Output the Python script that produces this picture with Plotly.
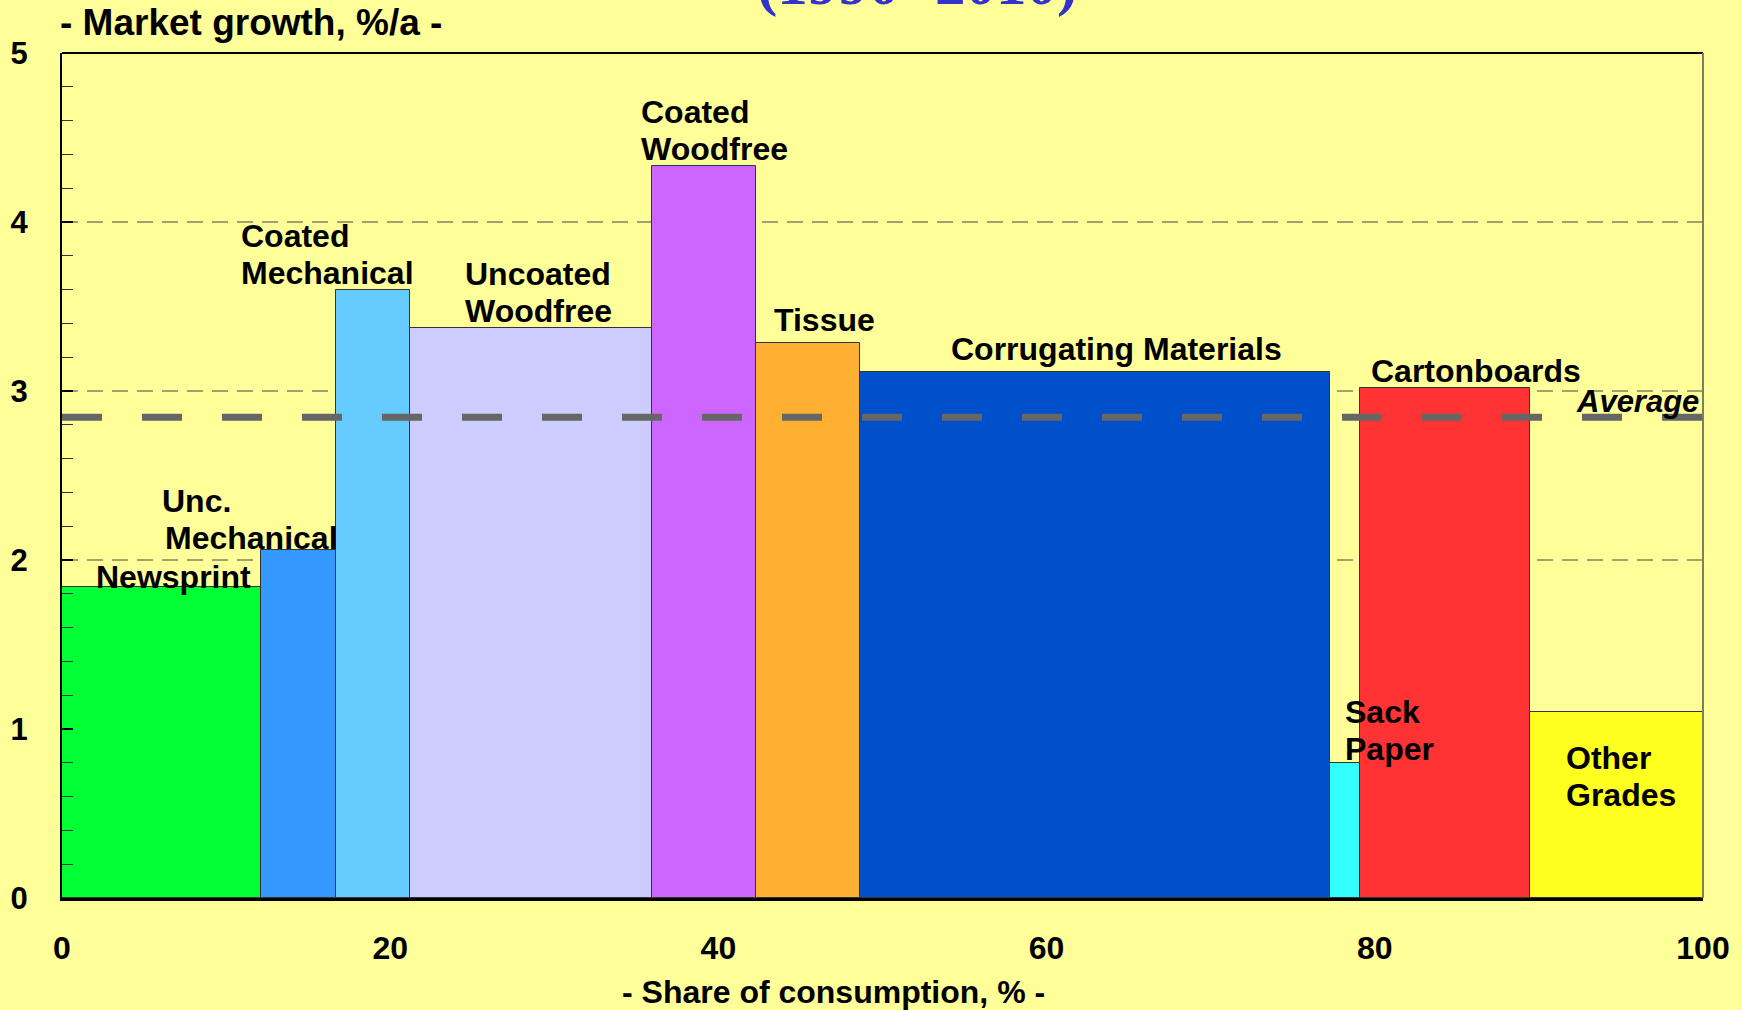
import plotly.graph_objects as go

# market share (% of consumption) and growth (%/a) per paper grade, 1990-2010
grades = ['Newsprint', 'Unc. Mechanical', 'Coated Mechanical', 'Uncoated Woodfree',
          'Coated Woodfree', 'Tissue', 'Corrugating Materials', 'Sack Paper',
          'Cartonboards', 'Other Grades']
share = [12.15, 4.53, 4.52, 14.77, 6.34, 6.29, 28.70, 1.77, 10.41, 10.52]
growth = [1.84, 2.06, 3.595, 3.375, 4.33, 3.285, 3.115, 0.80, 3.015, 1.10]
average = 2.845
colors = ['#00FF33', '#3399FF', '#66CCFF', '#CCCCFF', '#CC66FF',
          '#FFB033', '#0050CC', '#33FFFF', '#FF3333', '#FFFF1F']

# label lines and where each label block sits (x, y, anchor)
label_lines = [['Newsprint'], ['Unc.', ' Mechanical'], ['Coated', 'Mechanical'],
               ['Uncoated', 'Woodfree'], ['Coated', 'Woodfree'], ['Tissue'],
               ['Corrugating Materials'], ['Sack', 'Paper'], ['Cartonboards'],
               ['Other', 'Grades']]
label_x = [2.2, 6.2, 11.0, 24.7, 35.4, 43.5, 64.25, 78.3, 86.15, 91.8]
label_y = [1.90, 2.24, 3.81, 3.58, 4.54, 3.42, 3.25, 0.99, 3.12, 0.72]
label_anchor = ['left', 'left', 'left', 'left', 'left', 'left', 'center', 'left', 'center', 'left']

x_ticks = [0, 20, 40, 60, 80, 100]
y_ticks = [0, 1, 2, 3, 4, 5]
grid_at = [2, 3, 4]

FONT = 'Arial, Liberation Sans, sans-serif'
BG = '#FFFF99'
LINE_GAP = 37

left = []
pos = 0
for s in share:
    left.append(pos)
    pos += s
mid = [l + s / 2 for l, s in zip(left, share)]

fig = go.Figure()
fig.add_trace(go.Bar(x=mid, y=growth, width=share,
                     marker=dict(color=colors, line=dict(color='#333333', width=1)),
                     hoverinfo='skip', showlegend=False))

fig.add_trace(go.Scatter(x=[0, 100], y=[average, average], mode='lines',
                         line=dict(color='#666666', width=7, dash='40px,40px'),
                         hoverinfo='skip', showlegend=False))

for g in grid_at:
    fig.add_shape(type='line', xref='x', yref='y', x0=0, x1=100, y0=g, y1=g,
                  line=dict(color='#444444', width=1.2, dash='16px,9px'), layer='below')

for lines, x, y, a in zip(label_lines, label_x, label_y, label_anchor):
    n = len(lines)
    for i, t in enumerate(lines):
        dx = -4 if a == 'left' else 0
        if t.startswith(' '):
            dx += 3
        fig.add_annotation(x=x, y=y, text=t.strip(), showarrow=False, xanchor=a, yanchor='middle',
                           xshift=dx, yshift=((n - 1) / 2 - i) * LINE_GAP,
                           font=dict(family=FONT, size=32, color='black', weight='bold'))

fig.add_annotation(x=99.9, y=2.94, text='<i>Average</i>', showarrow=False, xanchor='right',
                   yanchor='middle', font=dict(family=FONT, size=31, color='black', weight='bold'))

# axis titles
fig.add_annotation(xref='paper', yref='paper', x=0, y=1, yshift=31, xshift=-4, xanchor='left',
                   yanchor='middle', text='- Market growth, %/a -', showarrow=False,
                   font=dict(family=FONT, size=37, color='black', weight='bold'))
fig.add_annotation(xref='paper', yref='paper', x=0.47, y=0, yshift=-94, xanchor='center',
                   yanchor='middle', text='- Share of consumption, % -', showarrow=False,
                   font=dict(family=FONT, size=32, color='black', weight='bold'))
# title, mostly cut off by the top of the page
fig.add_annotation(xref='paper', yref='paper', x=0.521, y=1, yshift=69, xanchor='center',
                   yanchor='middle', text='(1990- 2010)', showarrow=False,
                   font=dict(family='Liberation Serif, Times New Roman, serif', size=61,
                             color='#3333CC', weight='bold'))

fig.update_layout(
    width=1742, height=1010,
    margin=dict(l=62, r=39, t=53, b=112),
    paper_bgcolor=BG, plot_bgcolor=BG,
    bargap=0, showlegend=False,
    font=dict(family=FONT, size=32, color='black'),
)
fig.update_xaxes(range=[0, 100], tickvals=x_ticks, ticks='', showgrid=False, zeroline=False,
                 showline=True, linecolor='black', linewidth=3, ticklabelstandoff=20,
                 tickfont=dict(family=FONT, size=32, weight='bold'), fixedrange=True,
                 automargin=False)
fig.update_yaxes(range=[0, 5], tickvals=y_ticks, ticks='inside', ticklen=11, tickwidth=1.5,
                 tickcolor='black', showgrid=False, zeroline=False,
                 showline=True, linecolor='black', linewidth=2, ticklabelstandoff=26,
                 minor=dict(dtick=0.2, ticks='inside', ticklen=11, tickwidth=1, tickcolor='#333333'),
                 tickfont=dict(family=FONT, size=31, weight='bold'), fixedrange=True,
                 automargin=False)
# frame top and right
fig.add_shape(type='line', xref='paper', yref='paper', x0=0, x1=1, y0=1, y1=1,
              line=dict(color='black', width=2))
fig.add_shape(type='line', xref='paper', yref='paper', x0=1, x1=1, y0=0, y1=1,
              line=dict(color='#808060', width=2))

fig.write_html('out.html', config={'displayModeBar': False},
               post_script='document.body.style.margin="0";document.body.style.overflow="hidden";')
